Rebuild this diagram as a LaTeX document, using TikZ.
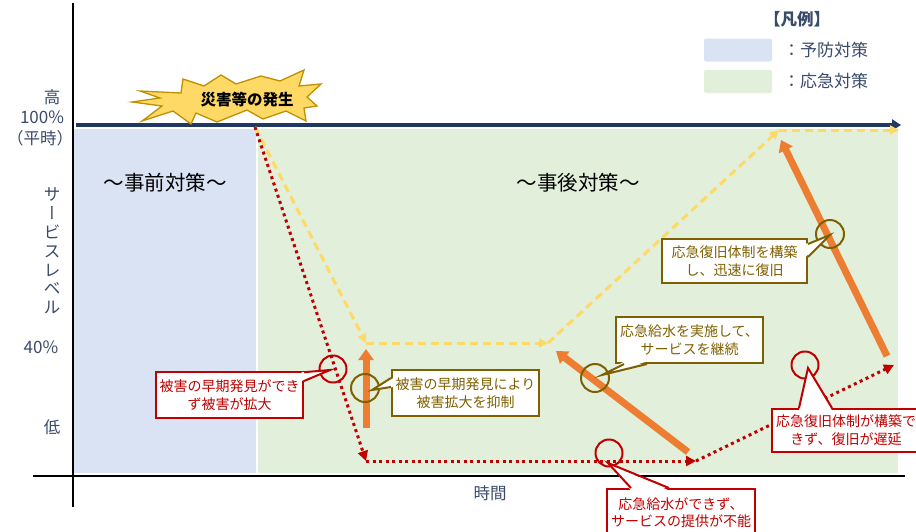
\documentclass[tikz,border=0pt]{standalone}
\usepackage{fontspec}
\usepackage{graphicx}
\setmainfont{Noto Sans CJK JP}
\usetikzlibrary{arrows.meta,calc}
\definecolor{preblue}{HTML}{DAE3F3}
\definecolor{postgreen}{HTML}{E2EFDA}
\definecolor{navyc}{HTML}{203864}
\definecolor{labelc}{HTML}{3A4A6B}
\definecolor{dred}{HTML}{C00000}
\definecolor{olivec}{HTML}{7F6000}
\definecolor{orng}{HTML}{ED7D31}
\definecolor{yel}{HTML}{FFD966}
\definecolor{goldc}{HTML}{BF9000}
\begin{document}
\begin{tikzpicture}[x=1pt,y=-1pt,
  lbl/.style={text=labelc, font=\fontsize{16.5}{18}\selectfont, inner sep=0pt},
  ydash/.style={yel, line width=3pt, dash pattern=on 8pt off 5pt, -{Triangle[length=9pt,width=9pt]}},
  rdot/.style={dred, line width=3pt, dash pattern=on 3pt off 3.5pt, -{Triangle[length=10pt,width=10pt]}},
  oarrow/.style={orng, line width=7pt, -{Triangle[length=11pt,width=15pt]}},
  rcirc/.style={circle, draw=dred, line width=2pt, minimum size=27pt, inner sep=0pt},
  ocirc/.style={circle, draw=olivec, line width=2pt, minimum size=28pt, inner sep=0pt},
  cbox/.style={rectangle, fill=white, line width=2pt, inner sep=0pt, align=center, font=\fontsize{14}{18}\selectfont},
  rbox/.style={cbox, draw=dred, text=dred},
  obox/.style={cbox, draw=olivec, text=olivec},
  rwedge/.style={draw=dred, line width=2pt},
  owedge/.style={draw=olivec, line width=2pt},
  legbox/.style={rounded corners=2pt, minimum width=68pt, minimum height=23pt, inner sep=0pt},
  legtxt/.style={anchor=west, font=\fontsize{17}{19}\selectfont, text=labelc, inner sep=0pt},
  phase/.style={font=\fontsize{20.5}{22}\selectfont, text=black, inner sep=0pt}
]
\path[use as bounding box, clip] (0,0) rectangle (916,531);

% regions
\fill[preblue] (74,129) rectangle (256,473);
\fill[postgreen] (258,129) rectangle (898,473);

% axes
\coordinate (vtop) at (73,3);
\coordinate (vbot) at (73,507);
\coordinate (hl) at (33,476);
\coordinate (hr) at (905,476);
\draw[black, line width=2pt] (vtop) -- (vbot);
\draw[black, line width=2.5pt] (hl) -- (hr);
\coordinate (tl) at (76,125);
\coordinate (tr) at (901,125);
\draw[navyc, line width=4pt, -{Triangle[length=9pt,width=11pt]}] (tl) -- (tr);

% axis labels
\node[lbl] (high) at (52,97) {高};
\node[lbl, font=\fontsize{17}{18}\selectfont] (p100) at (42,117) {100\%};
\node[lbl] (heiji) at (40,138) {（平時）};
\node[lbl, align=center, font=\fontsize{16.5}{18.8}\selectfont] (vlab) at (52,251) {サ\\{\addfontfeature{RawFeature=+vert}ー}\\ビ\\ス\\レ\\ベ\\ル};
\node[lbl, font=\fontsize{17}{18}\selectfont] (p40) at (41,347) {40\%};
\node[lbl] (low) at (52,427) {低};
\node[lbl, text=labelc] (time) at (490,493) {時間};

% phase titles
\node[phase] (pre) at (165,183) {～事前対策～};
\node[phase] (post) at (578,183) {～事後対策～};

% legend
\node[font=\fontsize{16.5}{18}\bfseries, text=labelc, inner sep=0pt] (legt) at (797,19) {【凡例】};
\node[legbox, fill=preblue] (legb) at (738,50) {};
\node[legbox, fill=postgreen] (legg) at (738,81.5) {};
\node[legtxt] (legbt) at (783,50) {：予防対策};
\node[legtxt] (leggt) at (783,81.5) {：応急対策};

% explosion
\draw[fill=yel, draw=goldc, line width=1.3pt, line join=miter]
  (140,91) -- (181,93) -- (183,79) -- (204,86) -- (221,75) -- (236,84) -- (261,76) -- (280,81)
  -- (304,70) -- (299,86) -- (321,84) -- (307,97) -- (317,106) -- (304,108) -- (306,121)
  -- (286,111) -- (263,119) -- (247,110) -- (217,122) -- (196,113) -- (191,124) -- (173,111)
  -- (142,121) -- (162,106) -- (132,102) -- (160,98) -- cycle;
\node[font=\fontsize{15.5}{17}\bfseries, text=black, inner sep=0pt] (disaster) at (247,100) {災害等の発生};

% yellow dashed path
\coordinate (S) at (255,127);
\coordinate (Y1) at (366,343);
\coordinate (Y2) at (548,343);
\coordinate (Y3) at (779,130);
\coordinate (Y4) at (899,130);
\draw[ydash] (S) -- (Y1);
\draw[ydash] (Y1) -- (Y2);
\draw[ydash] (Y2) -- (Y3);
\draw[ydash] (Y3) -- (Y4);

% red dotted path
\coordinate (R1) at (366,461);
\coordinate (R2) at (696,461);
\coordinate (R3) at (894,365);
\draw[rdot] (S) -- (R1);
\draw[rdot] (R1) -- (R2);
\draw[rdot] (R2) -- (R3);

% orange arrows
\coordinate (O1a) at (366,428);
\coordinate (O1b) at (366,349);
\coordinate (O2a) at (688,452);
\coordinate (O2b) at (556,351);
\coordinate (O3a) at (887,356);
\coordinate (O3b) at (781,140);
\draw[oarrow] (O1a) -- (O1b);
\draw[oarrow] (O2a) -- (O2b);
\draw[oarrow] (O3a) -- (O3b);

% circles
\node[rcirc] (c1) at (333,369) {};
\node[ocirc] (c2) at (365,388) {};
\node[ocirc] (c3) at (595,378) {};
\node[ocirc] (c4) at (830,234) {};
\node[rcirc] (c5) at (609,453) {};
\node[rcirc] (c6) at (805,365) {};

% callout 1
\node[rbox, minimum width=147pt, minimum height=46pt] (b1) at (229.5,395) {被害の早期発見ができ\\ず被害が拡大};
\coordinate (T1) at ($(c1.center)+(-3,1)$);
\fill[white] ($(b1.north east)+(-2.5,1.2)$) -- (T1) -- ($(b1.north east)+(-2.5,10)$) -- cycle;
\draw[rwedge] ($(b1.north east)+(0,1.2)$) -- (T1) -- ($(b1.north east)+(0,10)$);

% callout 2
\node[obox, minimum width=147pt, minimum height=46pt] (b2) at (465.5,393) {被害の早期発見により\\被害拡大を抑制};
\coordinate (T2) at ($(c2.center)+(7,2)$);
\fill[white] ($(b2.north west)+(2.5,9)$) -- (T2) -- ($(b2.north west)+(2.5,18)$) -- cycle;
\draw[owedge] ($(b2.north west)+(0,9)$) -- (T2) -- ($(b2.north west)+(0,18)$);

% callout 3
\node[obox, minimum width=147pt, minimum height=46pt] (b3) at (689.5,340) {応急給水を実施して、\\サービスを継続};
\coordinate (T3) at ($(c3.center)+(7,-3)$);
\fill[white] ($(b3.south west)+(9,-2.5)$) -- (T3) -- ($(b3.south west)+(32,-2.5)$) -- cycle;
\draw[owedge] ($(b3.south west)+(9,0)$) -- (T3) -- ($(b3.south west)+(32,0)$);

% callout 4
\node[obox, minimum width=145pt, minimum height=44pt] (b4) at (734.5,261) {応急復旧体制を構築\\し、迅速に復旧};
\coordinate (T4) at ($(c4.center)+(0,1)$);
\fill[white] ($(b4.north east)+(-2.5,6)$) -- (T4) -- ($(b4.north east)+(-2.5,19)$) -- cycle;
\draw[owedge] ($(b4.north east)+(0,6)$) -- (T4) -- ($(b4.north east)+(0,19)$);

% callout 5
\node[rbox, minimum width=148pt, minimum height=47pt, font=\fontsize{14}{17}\selectfont] (b5) at (681,512.5) {応急給水ができず、\\サービスの提供が不能};
\coordinate (T5) at ($(c5.center)+(-1,10)$);
\fill[white] ($(b5.north west)+(25,2.5)$) -- (T5) -- ($(b5.north west)+(63,2.5)$) -- cycle;
\draw[rwedge] ($(b5.north west)+(25,0)$) -- (T5) -- ($(b5.north west)+(63,0)$);

% callout 6
\node[rbox, minimum width=148pt, minimum height=43pt] (b6) at (846,430.5) {応急復旧体制が構築で\\きず、復旧が遅延};
\coordinate (T6) at ($(c6.center)+(3,3)$);
\fill[white] ($(b6.north west)+(28,2.5)$) -- (T6) -- ($(b6.north west)+(61,2.5)$) -- cycle;
\draw[rwedge] ($(b6.north west)+(28,0)$) -- (T6) -- ($(b6.north west)+(61,0)$);
\end{tikzpicture}
\end{document}
